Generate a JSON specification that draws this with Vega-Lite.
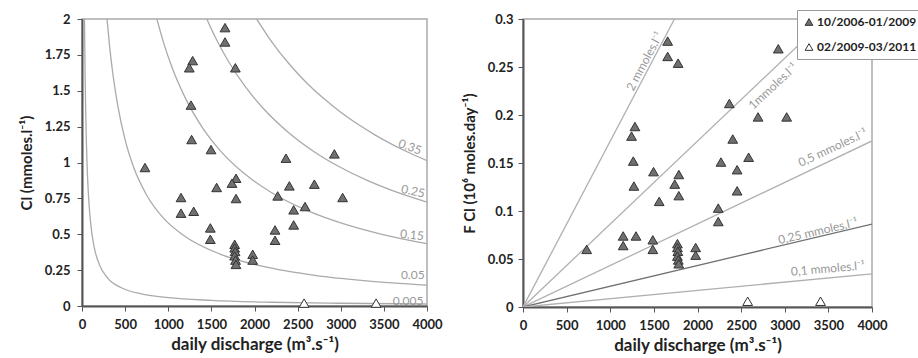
{
  "$schema": "https://vega.github.io/schema/vega-lite/v6.json",
  "padding": {"left": 18, "top": 8, "right": 0, "bottom": 0},
  "spacing": 18,
  "datasets": {
    "pts": [
      {"Q": 1658, "Cl": 1.94, "F": 0.277, "period": "10/2006-01/2009"},
      {"Q": 1658, "Cl": 1.84, "F": 0.261, "period": "10/2006-01/2009"},
      {"Q": 1778, "Cl": 1.66, "F": 0.254, "period": "10/2006-01/2009"},
      {"Q": 1283, "Cl": 1.71, "F": 0.188, "period": "10/2006-01/2009"},
      {"Q": 1244, "Cl": 1.66, "F": 0.178, "period": "10/2006-01/2009"},
      {"Q": 1264, "Cl": 1.40, "F": 0.152, "period": "10/2006-01/2009"},
      {"Q": 1271, "Cl": 1.16, "F": 0.126, "period": "10/2006-01/2009"},
      {"Q": 1496, "Cl": 1.09, "F": 0.141, "period": "10/2006-01/2009"},
      {"Q": 730, "Cl": 0.965, "F": 0.060, "period": "10/2006-01/2009"},
      {"Q": 2365, "Cl": 1.03, "F": 0.212, "period": "10/2006-01/2009"},
      {"Q": 2926, "Cl": 1.06, "F": 0.269, "period": "10/2006-01/2009"},
      {"Q": 1786, "Cl": 0.89, "F": 0.138, "period": "10/2006-01/2009"},
      {"Q": 1739, "Cl": 0.856, "F": 0.128, "period": "10/2006-01/2009"},
      {"Q": 1561, "Cl": 0.826, "F": 0.110, "period": "10/2006-01/2009"},
      {"Q": 1786, "Cl": 0.749, "F": 0.116, "period": "10/2006-01/2009"},
      {"Q": 1148, "Cl": 0.756, "F": 0.074, "period": "10/2006-01/2009"},
      {"Q": 1148, "Cl": 0.647, "F": 0.064, "period": "10/2006-01/2009"},
      {"Q": 1295, "Cl": 0.66, "F": 0.074, "period": "10/2006-01/2009"},
      {"Q": 2269, "Cl": 0.767, "F": 0.151, "period": "10/2006-01/2009"},
      {"Q": 2404, "Cl": 0.837, "F": 0.175, "period": "10/2006-01/2009"},
      {"Q": 2694, "Cl": 0.849, "F": 0.198, "period": "10/2006-01/2009"},
      {"Q": 3022, "Cl": 0.756, "F": 0.198, "period": "10/2006-01/2009"},
      {"Q": 2454, "Cl": 0.67, "F": 0.143, "period": "10/2006-01/2009"},
      {"Q": 2586, "Cl": 0.693, "F": 0.156, "period": "10/2006-01/2009"},
      {"Q": 2454, "Cl": 0.565, "F": 0.121, "period": "10/2006-01/2009"},
      {"Q": 2238, "Cl": 0.53, "F": 0.103, "period": "10/2006-01/2009"},
      {"Q": 2238, "Cl": 0.458, "F": 0.089, "period": "10/2006-01/2009"},
      {"Q": 1488, "Cl": 0.544, "F": 0.070, "period": "10/2006-01/2009"},
      {"Q": 1488, "Cl": 0.465, "F": 0.060, "period": "10/2006-01/2009"},
      {"Q": 1770, "Cl": 0.43, "F": 0.066, "period": "10/2006-01/2009"},
      {"Q": 1770, "Cl": 0.405, "F": 0.062, "period": "10/2006-01/2009"},
      {"Q": 1775, "Cl": 0.38, "F": 0.058, "period": "10/2006-01/2009"},
      {"Q": 1770, "Cl": 0.35, "F": 0.053, "period": "10/2006-01/2009"},
      {"Q": 1780, "Cl": 0.32, "F": 0.049, "period": "10/2006-01/2009"},
      {"Q": 1785, "Cl": 0.29, "F": 0.045, "period": "10/2006-01/2009"},
      {"Q": 1979, "Cl": 0.36, "F": 0.062, "period": "10/2006-01/2009"},
      {"Q": 1979, "Cl": 0.32, "F": 0.054, "period": "10/2006-01/2009"},
      {"Q": 2575, "Cl": 0.02, "F": 0.006, "period": "02/2009-03/2011"},
      {"Q": 3410, "Cl": 0.02, "F": 0.006, "period": "02/2009-03/2011"}
    ],
    "curves": [
      {"flux": "0.35", "Q": 2025, "Cl": 2.0}, {"flux": "0.35", "Q": 2200, "Cl": 1.841}, {"flux": "0.35", "Q": 2400, "Cl": 1.688}, {"flux": "0.35", "Q": 2600, "Cl": 1.558}, {"flux": "0.35", "Q": 2800, "Cl": 1.447}, {"flux": "0.35", "Q": 3000, "Cl": 1.350}, {"flux": "0.35", "Q": 3200, "Cl": 1.266}, {"flux": "0.35", "Q": 3400, "Cl": 1.191}, {"flux": "0.35", "Q": 3600, "Cl": 1.125}, {"flux": "0.35", "Q": 3800, "Cl": 1.066}, {"flux": "0.35", "Q": 4000, "Cl": 1.013},
      {"flux": "0.25", "Q": 1447, "Cl": 2.0}, {"flux": "0.25", "Q": 1550, "Cl": 1.867}, {"flux": "0.25", "Q": 1700, "Cl": 1.702}, {"flux": "0.25", "Q": 1900, "Cl": 1.523}, {"flux": "0.25", "Q": 2100, "Cl": 1.378}, {"flux": "0.25", "Q": 2400, "Cl": 1.206}, {"flux": "0.25", "Q": 2700, "Cl": 1.072}, {"flux": "0.25", "Q": 3000, "Cl": 0.965}, {"flux": "0.25", "Q": 3300, "Cl": 0.877}, {"flux": "0.25", "Q": 3600, "Cl": 0.804}, {"flux": "0.25", "Q": 4000, "Cl": 0.724},
      {"flux": "0.15", "Q": 868, "Cl": 2.0}, {"flux": "0.15", "Q": 950, "Cl": 1.827}, {"flux": "0.15", "Q": 1050, "Cl": 1.653}, {"flux": "0.15", "Q": 1200, "Cl": 1.447}, {"flux": "0.15", "Q": 1400, "Cl": 1.240}, {"flux": "0.15", "Q": 1600, "Cl": 1.085}, {"flux": "0.15", "Q": 1900, "Cl": 0.914}, {"flux": "0.15", "Q": 2200, "Cl": 0.789}, {"flux": "0.15", "Q": 2600, "Cl": 0.668}, {"flux": "0.15", "Q": 3000, "Cl": 0.579}, {"flux": "0.15", "Q": 3500, "Cl": 0.496}, {"flux": "0.15", "Q": 4000, "Cl": 0.434},
      {"flux": "0.05", "Q": 290, "Cl": 2.0}, {"flux": "0.05", "Q": 320, "Cl": 1.809}, {"flux": "0.05", "Q": 360, "Cl": 1.608}, {"flux": "0.05", "Q": 420, "Cl": 1.379}, {"flux": "0.05", "Q": 500, "Cl": 1.158}, {"flux": "0.05", "Q": 600, "Cl": 0.965}, {"flux": "0.05", "Q": 750, "Cl": 0.772}, {"flux": "0.05", "Q": 950, "Cl": 0.609}, {"flux": "0.05", "Q": 1200, "Cl": 0.483}, {"flux": "0.05", "Q": 1600, "Cl": 0.362}, {"flux": "0.05", "Q": 2100, "Cl": 0.276}, {"flux": "0.05", "Q": 2700, "Cl": 0.214}, {"flux": "0.05", "Q": 3300, "Cl": 0.175}, {"flux": "0.05", "Q": 4000, "Cl": 0.145},
      {"flux": "0.005", "Q": 29, "Cl": 2.0}, {"flux": "0.005", "Q": 32, "Cl": 1.809}, {"flux": "0.005", "Q": 36, "Cl": 1.608}, {"flux": "0.005", "Q": 42, "Cl": 1.379}, {"flux": "0.005", "Q": 50, "Cl": 1.158}, {"flux": "0.005", "Q": 60, "Cl": 0.965}, {"flux": "0.005", "Q": 75, "Cl": 0.772}, {"flux": "0.005", "Q": 100, "Cl": 0.579}, {"flux": "0.005", "Q": 140, "Cl": 0.414}, {"flux": "0.005", "Q": 200, "Cl": 0.290}, {"flux": "0.005", "Q": 300, "Cl": 0.193}, {"flux": "0.005", "Q": 450, "Cl": 0.129}, {"flux": "0.005", "Q": 700, "Cl": 0.083}, {"flux": "0.005", "Q": 1000, "Cl": 0.058}, {"flux": "0.005", "Q": 1500, "Cl": 0.039}, {"flux": "0.005", "Q": 2200, "Cl": 0.026}, {"flux": "0.005", "Q": 3000, "Cl": 0.019}, {"flux": "0.005", "Q": 4000, "Cl": 0.014}
    ],
    "rays": [
      {"conc": "2", "Q": 0, "F": 0}, {"conc": "2", "Q": 1736, "F": 0.3},
      {"conc": "1", "Q": 0, "F": 0}, {"conc": "1", "Q": 3472, "F": 0.3},
      {"conc": "0.5", "Q": 0, "F": 0}, {"conc": "0.5", "Q": 4000, "F": 0.173},
      {"conc": "0.25", "Q": 0, "F": 0}, {"conc": "0.25", "Q": 4000, "F": 0.0864},
      {"conc": "0.1", "Q": 0, "F": 0}, {"conc": "0.1", "Q": 4000, "F": 0.0346}
    ]
  },
  "hconcat": [
    {
      "width": 345,
      "height": 287,
      "encoding": {
        "x": {"field": "Q", "type": "quantitative", "scale": {"domain": [0, 4000], "nice": false}, "axis": {"values": [0, 500, 1000, 1500, 2000, 2500, 3000, 3500, 4000], "labelExpr": "'' + datum.value", "title": "daily discharge (m³.s⁻¹)"}},
        "y": {"field": "Cl", "type": "quantitative", "scale": {"domain": [0, 2], "nice": false}, "axis": {"values": [0, 0.25, 0.5, 0.75, 1, 1.25, 1.5, 1.75, 2], "labelExpr": "'' + datum.value", "title": "Cl (mmoles.l⁻¹)", "labelPadding": 7, "titlePadding": 10, "labelOverlap": false}}
      },
      "layer": [
        {
          "data": {"name": "curves"},
          "mark": {"type": "line", "color": "#aaaaaa", "strokeWidth": 1.3, "interpolate": "monotone", "clip": true},
          "encoding": {"detail": {"field": "flux"}}
        },
        {
          "data": {"values": [{"Q": 3803, "Cl": 1.108, "t": "0.35"}]},
          "mark": {"type": "text", "angle": 20, "color": "#999999", "fontSize": 12, "font": "Lato"},
          "encoding": {"text": {"field": "t"}}
        },
        {
          "data": {"values": [{"Q": 3838, "Cl": 0.8, "t": "0.25"}]},
          "mark": {"type": "text", "angle": 12, "color": "#999999", "fontSize": 12, "font": "Lato"},
          "encoding": {"text": {"field": "t"}}
        },
        {
          "data": {"values": [{"Q": 3826, "Cl": 0.495, "t": "0.15"}]},
          "mark": {"type": "text", "angle": 6, "color": "#999999", "fontSize": 12, "font": "Lato"},
          "encoding": {"text": {"field": "t"}}
        },
        {
          "data": {"values": [{"Q": 3835, "Cl": 0.216, "t": "0.05"}, {"Q": 3780, "Cl": 0.037, "t": "0.005"}]},
          "mark": {"type": "text", "color": "#999999", "fontSize": 12, "font": "Lato"},
          "encoding": {"text": {"field": "t"}}
        },
        {
          "data": {"name": "pts"},
          "mark": {"type": "point", "shape": "triangle-up", "filled": true, "size": 95, "stroke": "#333333", "strokeWidth": 1, "opacity": 1},
          "encoding": {
            "fill": {"field": "period", "type": "nominal", "scale": {"domain": ["10/2006-01/2009", "02/2009-03/2011"], "range": ["#707070", "#ffffff"]}, "legend": null}
          }
        }
      ]
    },
    {
      "width": 349,
      "height": 288,
      "encoding": {
        "x": {"field": "Q", "type": "quantitative", "scale": {"domain": [0, 4000], "nice": false}, "axis": {"values": [0, 500, 1000, 1500, 2000, 2500, 3000, 3500, 4000], "labelExpr": "'' + datum.value", "title": "daily discharge (m³.s⁻¹)"}},
        "y": {"field": "F", "type": "quantitative", "scale": {"domain": [0, 0.3], "nice": false}, "axis": {"values": [0, 0.05, 0.1, 0.15, 0.2, 0.25, 0.3], "labelExpr": "'' + datum.value", "title": "F Cl (10⁶ moles.day⁻¹)", "labelPadding": 5, "titlePadding": 10, "labelOverlap": false}}
      },
      "layer": [
        {
          "data": {"name": "rays"},
          "mark": {"type": "line", "strokeWidth": 1.3, "clip": true},
          "encoding": {
            "detail": {"field": "conc"},
            "color": {"field": "conc", "type": "nominal", "scale": {"domain": ["2", "1", "0.5", "0.25", "0.1"], "range": ["#b0b0b0", "#b0b0b0", "#b0b0b0", "#707070", "#b0b0b0"]}, "legend": null}
          }
        },
        {
          "data": {"values": [{"Q": 1396, "F": 0.256, "t": "2 mmoles.l⁻¹"}]},
          "mark": {"type": "text", "angle": -62, "color": "#999999", "fontSize": 12, "font": "Lato"},
          "encoding": {"text": {"field": "t"}}
        },
        {
          "data": {"values": [{"Q": 2866, "F": 0.23, "t": "1mmoles.l⁻¹"}]},
          "mark": {"type": "text", "angle": -43, "color": "#999999", "fontSize": 12, "font": "Lato"},
          "encoding": {"text": {"field": "t"}}
        },
        {
          "data": {"values": [{"Q": 3550, "F": 0.166, "t": "0,5 mmoles.l⁻¹"}]},
          "mark": {"type": "text", "angle": -25, "color": "#999999", "fontSize": 12, "font": "Lato"},
          "encoding": {"text": {"field": "t"}}
        },
        {
          "data": {"values": [{"Q": 3380, "F": 0.079, "t": "0,25 mmoles.l⁻¹"}]},
          "mark": {"type": "text", "angle": -13, "color": "#999999", "fontSize": 12, "font": "Lato"},
          "encoding": {"text": {"field": "t"}}
        },
        {
          "data": {"values": [{"Q": 3495, "F": 0.04, "t": "0,1 mmoles.l⁻¹"}]},
          "mark": {"type": "text", "angle": -5, "color": "#999999", "fontSize": 12, "font": "Lato"},
          "encoding": {"text": {"field": "t"}}
        },
        {
          "data": {"name": "pts"},
          "mark": {"type": "point", "shape": "triangle-up", "filled": true, "size": 95, "stroke": "#333333", "strokeWidth": 1, "opacity": 1},
          "encoding": {
            "fill": {
              "field": "period", "type": "nominal",
              "scale": {"domain": ["10/2006-01/2009", "02/2009-03/2011"], "range": ["#707070", "#ffffff"]},
              "legend": {"orient": "none", "legendX": 274, "legendY": -9, "title": null, "strokeColor": "#999999", "fillColor": "#ffffff", "padding": 6, "labelFont": "Lato", "labelFontSize": 12, "labelFontWeight": "bold", "labelColor": "#222222", "symbolType": "triangle-up", "symbolSize": 60, "symbolStrokeColor": "#333333", "symbolStrokeWidth": 1, "rowPadding": 13, "labelOffset": 2}
            }
          }
        }
      ]
    }
  ],
  "resolve": {"legend": {"fill": "independent"}},
  "config": {
    "view": {"stroke": "#aaaaaa", "strokeWidth": 1.5},
    "axis": {"grid": false, "labelFont": "Lato", "labelFontWeight": "bold", "labelFontSize": 13, "labelColor": "#222222", "titleFont": "Lato", "titleFontSize": 15, "titleFontWeight": "bold", "titleColor": "#222222", "domainColor": "#555555", "domainWidth": 2, "tickColor": "#555555", "tickSize": 5, "labelOverlap": false},
    "axisX": {"labelFlush": false, "titlePadding": 5, "labelPadding": 7, "titleFontSize": 17}
  }
}
